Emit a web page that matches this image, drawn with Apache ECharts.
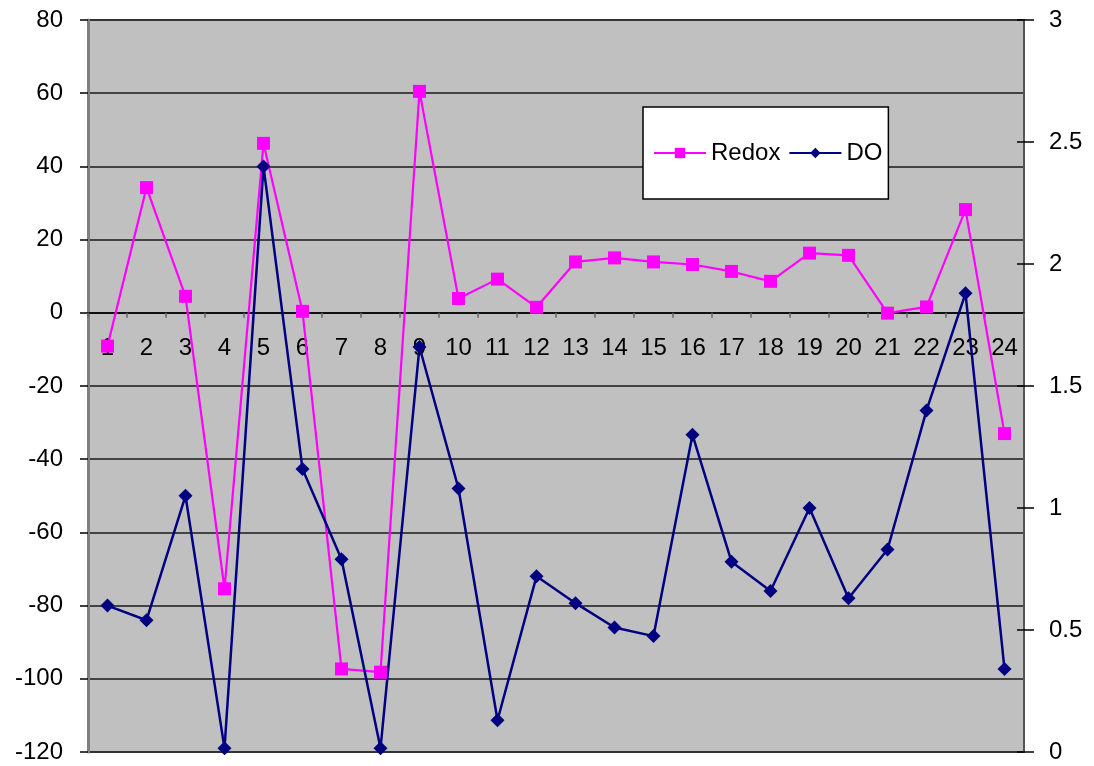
<!DOCTYPE html>
<html>
<head>
<meta charset="utf-8">
<script src="https://cdn.jsdelivr.net/npm/echarts@6/dist/echarts.min.js"></script>
<style>
  html, body { margin: 0; padding: 0; background: #fff; }
  #chart { width: 1094px; height: 766px; }
</style>
</head>
<body>
<div id="chart"></div>
<script>
// Sample numbers along the x axis
var categories = ['1','2','3','4','5','6','7','8','9','10','11','12',
                  '13','14','15','16','17','18','19','20','21','22','23','24'];

// Redox potential (left axis)
var redox = [-9.1, 34.2, 4.5, -75.4, 46.3, 0.4, -97.3, -98.2, 60.5, 3.9, 9.2, 1.5,
             13.9, 15.0, 13.9, 13.2, 11.3, 8.6, 16.3, 15.7, -0.1, 1.6, 28.2, -33.0];

// Dissolved oxygen (right axis)
var dissolvedOxygen = [0.60, 0.54, 1.05, 0.015, 2.40, 1.16, 0.79, 0.015, 1.66, 1.08, 0.13, 0.72,
                       0.61, 0.51, 0.475, 1.30, 0.78, 0.66, 1.00, 0.63, 0.83, 1.40, 1.88, 0.34];

var FONT = '"Liberation Sans", Arial, sans-serif';

var chart = echarts.init(document.getElementById('chart'), null, { renderer: 'canvas' });

chart.setOption({
  animation: false,
  backgroundColor: '#ffffff',
  textStyle: { fontFamily: FONT },
  grid: {
    left: 88, right: 70, top: 20, bottom: 14,
    containLabel: false,
    outerBoundsMode: 'none',
    show: true,
    backgroundColor: '#c0c0c0',
    borderColor: '#808080',
    borderWidth: 2
  },
  legend: {
    left: 643, top: 107,
    orient: 'horizontal',
    backgroundColor: '#ffffff',
    borderColor: '#000000',
    borderWidth: 1.5,
    borderRadius: 0,
    padding: [34, 6, 34, 10],
    itemWidth: 52,
    itemHeight: 13,
    itemGap: 8,
    textStyle: { fontSize: 24, color: '#000', fontFamily: FONT },
    data: ['Redox', 'DO']
  },
  xAxis: {
    type: 'category',
    data: categories,
    position: 'bottom',
    boundaryGap: true,
    axisLine: { show: true, onZero: false, lineStyle: { color: '#000', width: 1.5 } },
    axisTick: { show: true, length: 5, lineStyle: { color: '#666', width: 1.5 } },
    axisLabel: { fontSize: 24, color: '#000', margin: 24, fontFamily: FONT, interval: 0 },
    splitLine: { show: false }
  },
  yAxis: [
    {
      type: 'value',
      position: 'left',
      min: -120, max: 80, interval: 20,
      axisLine: { show: true, lineStyle: { color: '#808080', width: 3 } },
      axisTick: { show: true, length: 8, lineStyle: { color: '#000', width: 1.5 } },
      axisLabel: { fontSize: 24, color: '#000', margin: 25, fontFamily: FONT },
      splitLine: { show: true, lineStyle: { color: '#1a1a1a', width: 1.5 } }
    },
    {
      type: 'value',
      position: 'right',
      min: 0, max: 3, interval: 0.5,
      axisLine: { show: true, lineStyle: { color: '#555', width: 2 } },
      axisTick: { show: true, length: 10, lineStyle: { color: '#000', width: 1.5 } },
      axisLabel: { fontSize: 24, color: '#000', margin: 25, fontFamily: FONT },
      splitLine: { show: false }
    },
    {
      // inner half of the crossing ticks on the right axis
      type: 'value',
      position: 'right',
      min: 0, max: 3, interval: 0.5,
      axisLine: { show: false },
      axisTick: { show: true, inside: true, length: 7, lineStyle: { color: '#000', width: 1.5 } },
      axisLabel: { show: false },
      splitLine: { show: false }
    }
  ],
  series: [
    {
      name: 'Redox',
      type: 'line',
      yAxisIndex: 0,
      data: redox,
      symbol: 'rect',
      symbolSize: 13,
      showAllSymbol: true,
      lineStyle: { color: '#ff00ff', width: 2.2 },
      itemStyle: { color: '#ff00ff' },
      emphasis: { disabled: true }
    },
    {
      name: 'DO',
      type: 'line',
      yAxisIndex: 1,
      data: dissolvedOxygen,
      symbol: 'diamond',
      symbolSize: 14,
      showAllSymbol: true,
      lineStyle: { color: '#000080', width: 2.5 },
      itemStyle: { color: '#000080' },
      emphasis: { disabled: true }
    }
  ]
});

// Lift the category axis (line, ticks and labels) up to the Redox zero level,
// using the left value axis to find where 0 sits.
var zeroY = chart.convertToPixel({ yAxisIndex: 0 }, 0);
var bottomY = chart.convertToPixel({ yAxisIndex: 0 }, -120);
chart.setOption({ xAxis: { offset: zeroY - bottomY } });
</script>
</body>
</html>
